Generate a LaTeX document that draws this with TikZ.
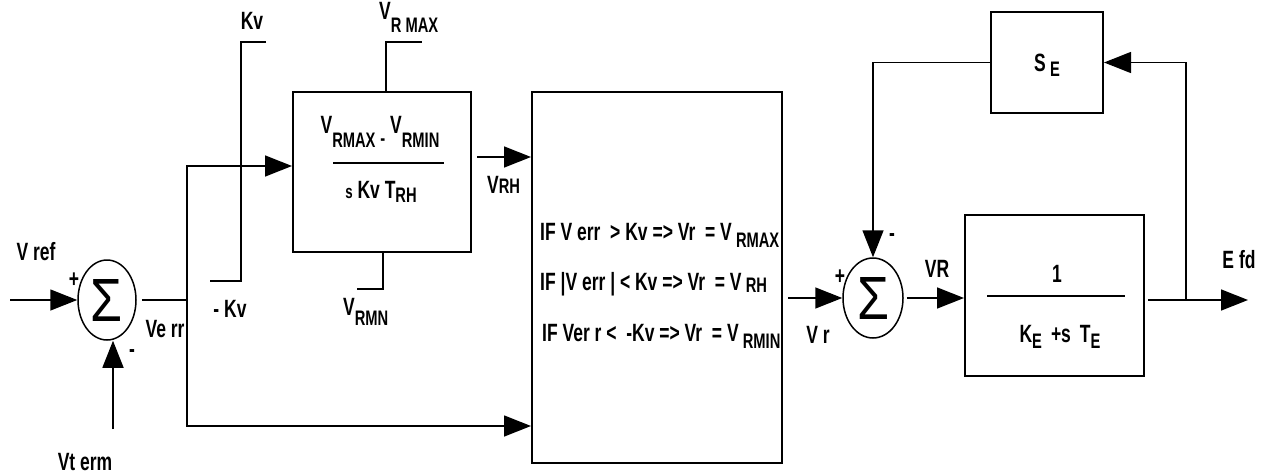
\documentclass[tikz,border=0pt]{standalone}
\usepackage{fontspec}
\setmainfont{Liberation Sans}[FakeStretch=0.7]
\newfontfamily\sigfont{Liberation Sans}
\usetikzlibrary{arrows.meta,shapes.geometric,calc}
\newcommand{\lo}[2]{\raisebox{-#1pt}{\fontsize{21}{21}\selectfont #2}}
\newcommand{\sig}{\resizebox{32pt}{42pt}{\sigfont\mdseries Σ}}
\begin{document}
\begin{tikzpicture}[x=1pt,y=-1pt,
  every node/.style={font=\fontsize{25}{27}\selectfont\bfseries, inner sep=0pt},
  ln/.style={line width=1.5pt},
  arr/.style={ln,-{Triangle[length=27pt,width=21pt]}},
  blk/.style={draw,line width=2pt,rectangle,inner sep=0pt},
  sumnode/.style={draw,line width=1.5pt,ellipse,minimum width=58pt,minimum height=80pt,inner sep=0pt}]
\useasboundingbox (0,0) rectangle (1273,476);
% summing junctions
\node[sumnode] (s1) at (107,300) {\sig};
\node[sumnode,minimum width=60pt] (s2) at (873,298) {\sig};
% blocks
\node[blk,minimum width=178pt,minimum height=160pt] (b1) at (382,172) {};
\node[blk,minimum width=250pt,minimum height=371pt] (b2) at (657,277.5) {};
\node[blk,minimum width=112pt,minimum height=101pt] (bse) at (1047,62.5) {};
\node[blk,minimum width=179pt,minimum height=161pt] (be) at (1054.5,295.5) {};
% block texts
\node[anchor=base] (num) at (380,133) {V\lo{14}{RMAX}\ \lo{12}{-}\ V\lo{14}{RMIN}};
\node[anchor=base] (den) at (381,198) {{\fontsize{19}{19}\selectfont s} Kv T\lo{4}{RH}};
\draw[ln] (333,163) -- (444,163);
\node[anchor=base west] (if1) at (540,240) {IF V err \ > Kv => Vr \ = V\,\lo{7}{RMAX}};
\node[anchor=base west] (if2) at (540,290) {IF |V err | < Kv => Vr \ = V\,\lo{2}{RH}};
\node[anchor=base west] (if3) at (542,341) {IF Ver r < \ -Kv => Vr \ = V\,\lo{7}{RMIN}};
\node[anchor=base] (se) at (1047,72) {S\,\lo{5}{E}};
\node[anchor=base] (one) at (1057,282) {1};
\draw[ln] (987,296) -- (1125,296);
\node[anchor=base] (kete) at (1060,342) {K\lo{6}{E} \,+s \,T\lo{6}{E}};
% labels
\node[anchor=base] (lvref) at (36,260) {V ref};
\node (lp1) at (74,280) {+};
\node (lm1) at (132,354) {-};
\node[anchor=base] (lvterm) at (85,470) {Vt erm};
\node[anchor=base] (lverr) at (165,337) {Ve rr};
\node[anchor=base] (lkv) at (252,30) {Kv};
\node[anchor=base] (lmkv) at (230,317) {- Kv};
\node[anchor=base west] (lvrmax) at (379,20) {V\lo{13}{R MAX}};
\node[anchor=base west] (lvrmin) at (343,315) {V\lo{10}{RMN}};
\node[anchor=base west] (lvrh) at (487,193) {V\lo{0}{RH}};
\node[anchor=base] (lvr) at (818,343) {V r};
\node (lp2) at (840,277) {+};
\node (lm2) at (892,238) {-};
\node[anchor=base] (lvr2) at (937,277) {VR};
\node[anchor=base] (lefd) at (1239,268) {E fd};
% coordinates
\coordinate (in1) at (10,300);
\coordinate (vt) at (113,429);
\coordinate (j1) at (187,300);
\coordinate (j2) at (1186,300);
\coordinate (out) at (1248,300);
\coordinate (b1o) at ($(b1.east)+(5,-15)$);
\coordinate (b2o) at ($(b2.east |- s2.west)+(5,0)$);
% limit lines
\draw[ln] (266,42) -- (241,42) -- (241,281) -- (210,281);
\draw[ln] ($(b1.north)+(4,0)$) -- ++(0,-49) -- ++(36,0);
\draw[ln] ($(b1.south)+(1,0)$) -- ++(0,36) -- ++(-26,0);
% connectors
\draw[arr] (in1) -- (s1.west);
\draw[arr] (vt) -- (vt |- s1.south);
\draw[ln] ($(s1.east)+(5,0)$) -- (j1);
\draw[arr] (j1) |- ($(b1.west)+(0,-6)$);
\draw[arr] (j1) |- ($(b2.south west)+(0,-38)$);
\draw[arr] (b1o) -- (b1o -| b2.west);
\draw[arr] (b2o) -- (s2.west);
\draw[arr] ($(s2.east)+(3,0)$) -- (s2.east -| be.west);
\draw[arr] ($(be.east |- j2)+(3,0)$) -- (out);
\draw[arr] (j2) |- (bse.east);
\draw[arr] (bse.west) -| (s2.north);
\end{tikzpicture}
\end{document}
